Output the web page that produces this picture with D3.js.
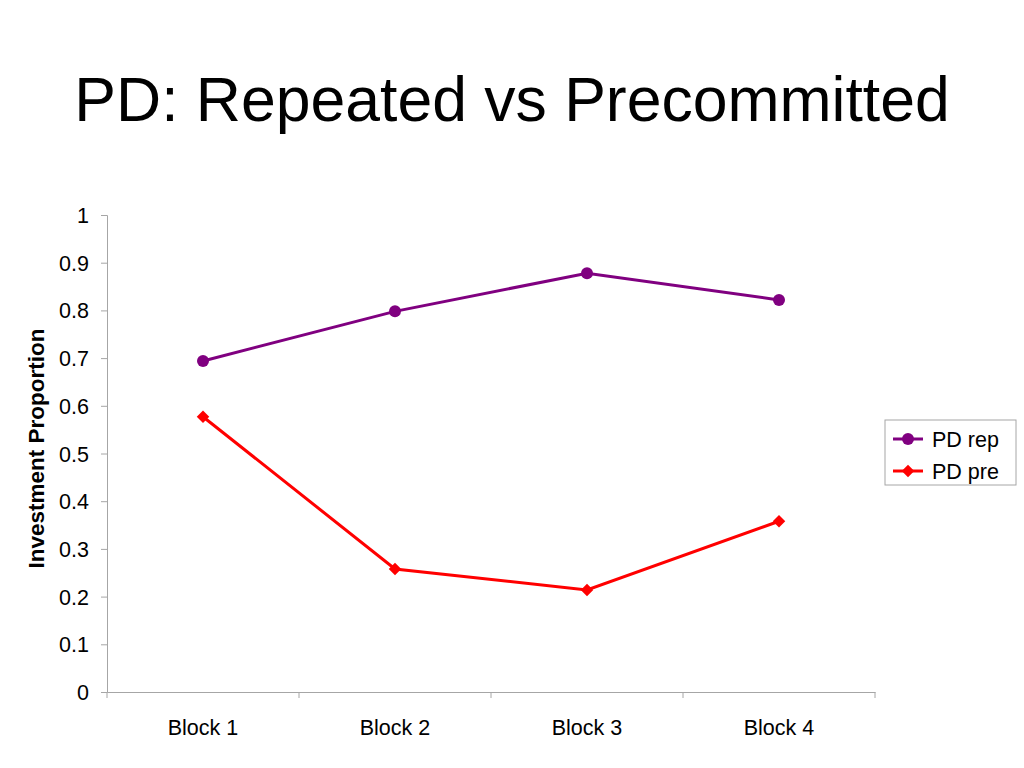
<!DOCTYPE html>
<html>
<head>
<meta charset="utf-8">
<script src="https://cdn.jsdelivr.net/npm/d3@7"></script>
<style>
  body { margin: 0; background: #fff; }
  svg { display: block; font-family: "Liberation Sans", Arial, sans-serif; }
</style>
</head>
<body>
<svg id="chart" width="1024" height="768"></svg>
<script>
const categories = ["Block 1", "Block 2", "Block 3", "Block 4"];
const pdRep = [0.694, 0.798, 0.878, 0.822];
const pdPre = [0.577, 0.258, 0.214, 0.358];
const yTicks = [0, 0.1, 0.2, 0.3, 0.4, 0.5, 0.6, 0.7, 0.8, 0.9, 1];

const svg = d3.select("#chart");

// title
svg.append("text")
  .attr("x", 512).attr("y", 121)
  .attr("text-anchor", "middle")
  .style("font-size", "62.5px")
  .text("PD: Repeated vs Precommitted");

const plotLeft = 107, plotRight = 875, plotTop = 215, plotBottom = 692;

const x = d3.scaleBand().domain(categories).range([plotLeft, plotRight]);
const y = d3.scaleLinear().domain([0, 1]).range([plotBottom, plotTop]);

// axes
const yAxis = svg.append("g")
  .attr("transform", `translate(${plotLeft},0)`)
  .call(d3.axisLeft(y).tickValues(yTicks).tickFormat(d3.format("~g")).tickSize(6).tickPadding(12));

const xAxis = svg.append("g")
  .attr("transform", `translate(0,${plotBottom})`)
  .call(d3.axisBottom(x).tickSize(0).tickPadding(28));

// category boundary ticks
xAxis.selectAll(".sep")
  .data(d3.range(categories.length + 1))
  .join("line")
    .attr("x1", i => plotLeft + i * x.bandwidth())
    .attr("x2", i => plotLeft + i * x.bandwidth())
    .attr("y1", 0).attr("y2", 6);

[yAxis, xAxis].forEach(g => {
  g.select(".domain").attr("stroke", "#a6a6a6");
  g.selectAll("line").attr("stroke", "#a6a6a6");
  g.selectAll("text").attr("fill", "#000").style("font-size", "21.5px")
    .style("font-family", "'Liberation Sans', Arial, sans-serif");
});
yAxis.selectAll("text").attr("dy", "0.35em");

// y axis title
svg.append("text")
  .attr("transform", `translate(44,${(plotTop + plotBottom) / 2 - 5}) rotate(-90)`)
  .attr("text-anchor", "middle")
  .style("font-size", "22.5px")
  .style("font-weight", "bold")
  .text("Investment Proportion");

const cx = d => x(d) + x.bandwidth() / 2;
const line = d3.line().x((d, i) => cx(categories[i])).y(d => y(d));

// PD rep
svg.append("path")
  .datum(pdRep)
  .attr("d", line)
  .attr("fill", "none")
  .attr("stroke", "#800080")
  .attr("stroke-width", 3);

svg.selectAll(".rep")
  .data(pdRep)
  .join("circle")
    .attr("cx", (d, i) => cx(categories[i]))
    .attr("cy", d => y(d))
    .attr("r", 6)
    .attr("fill", "#800080");

// PD pre
svg.append("path")
  .datum(pdPre)
  .attr("d", line)
  .attr("fill", "none")
  .attr("stroke", "#ff0000")
  .attr("stroke-width", 3);

const diamond = d3.symbol().type(d3.symbolDiamond2).size(100);
svg.selectAll(".pre")
  .data(pdPre)
  .join("path")
    .attr("transform", (d, i) => `translate(${cx(categories[i])},${y(d)})`)
    .attr("d", diamond)
    .attr("fill", "#ff0000");

// legend
const legend = svg.append("g").attr("transform", "translate(885,420)");
legend.append("rect")
  .attr("width", 131).attr("height", 65)
  .attr("fill", "#fff").attr("stroke", "#a6a6a6");

const items = [
  { name: "PD rep", color: "#800080", shape: "circle" },
  { name: "PD pre", color: "#ff0000", shape: "diamond" }
];
items.forEach((it, i) => {
  const g = legend.append("g").attr("transform", `translate(0,${19 + i * 32})`);
  g.append("line").attr("x1", 8).attr("x2", 38).attr("stroke", it.color).attr("stroke-width", 3);
  if (it.shape === "circle") {
    g.append("circle").attr("cx", 23).attr("r", 6).attr("fill", it.color);
  } else {
    g.append("path").attr("transform", "translate(23,0)").attr("d", diamond).attr("fill", it.color);
  }
  g.append("text").attr("x", 47).attr("dy", "0.35em").style("font-size", "21.5px").text(it.name);
});
</script>
</body>
</html>
